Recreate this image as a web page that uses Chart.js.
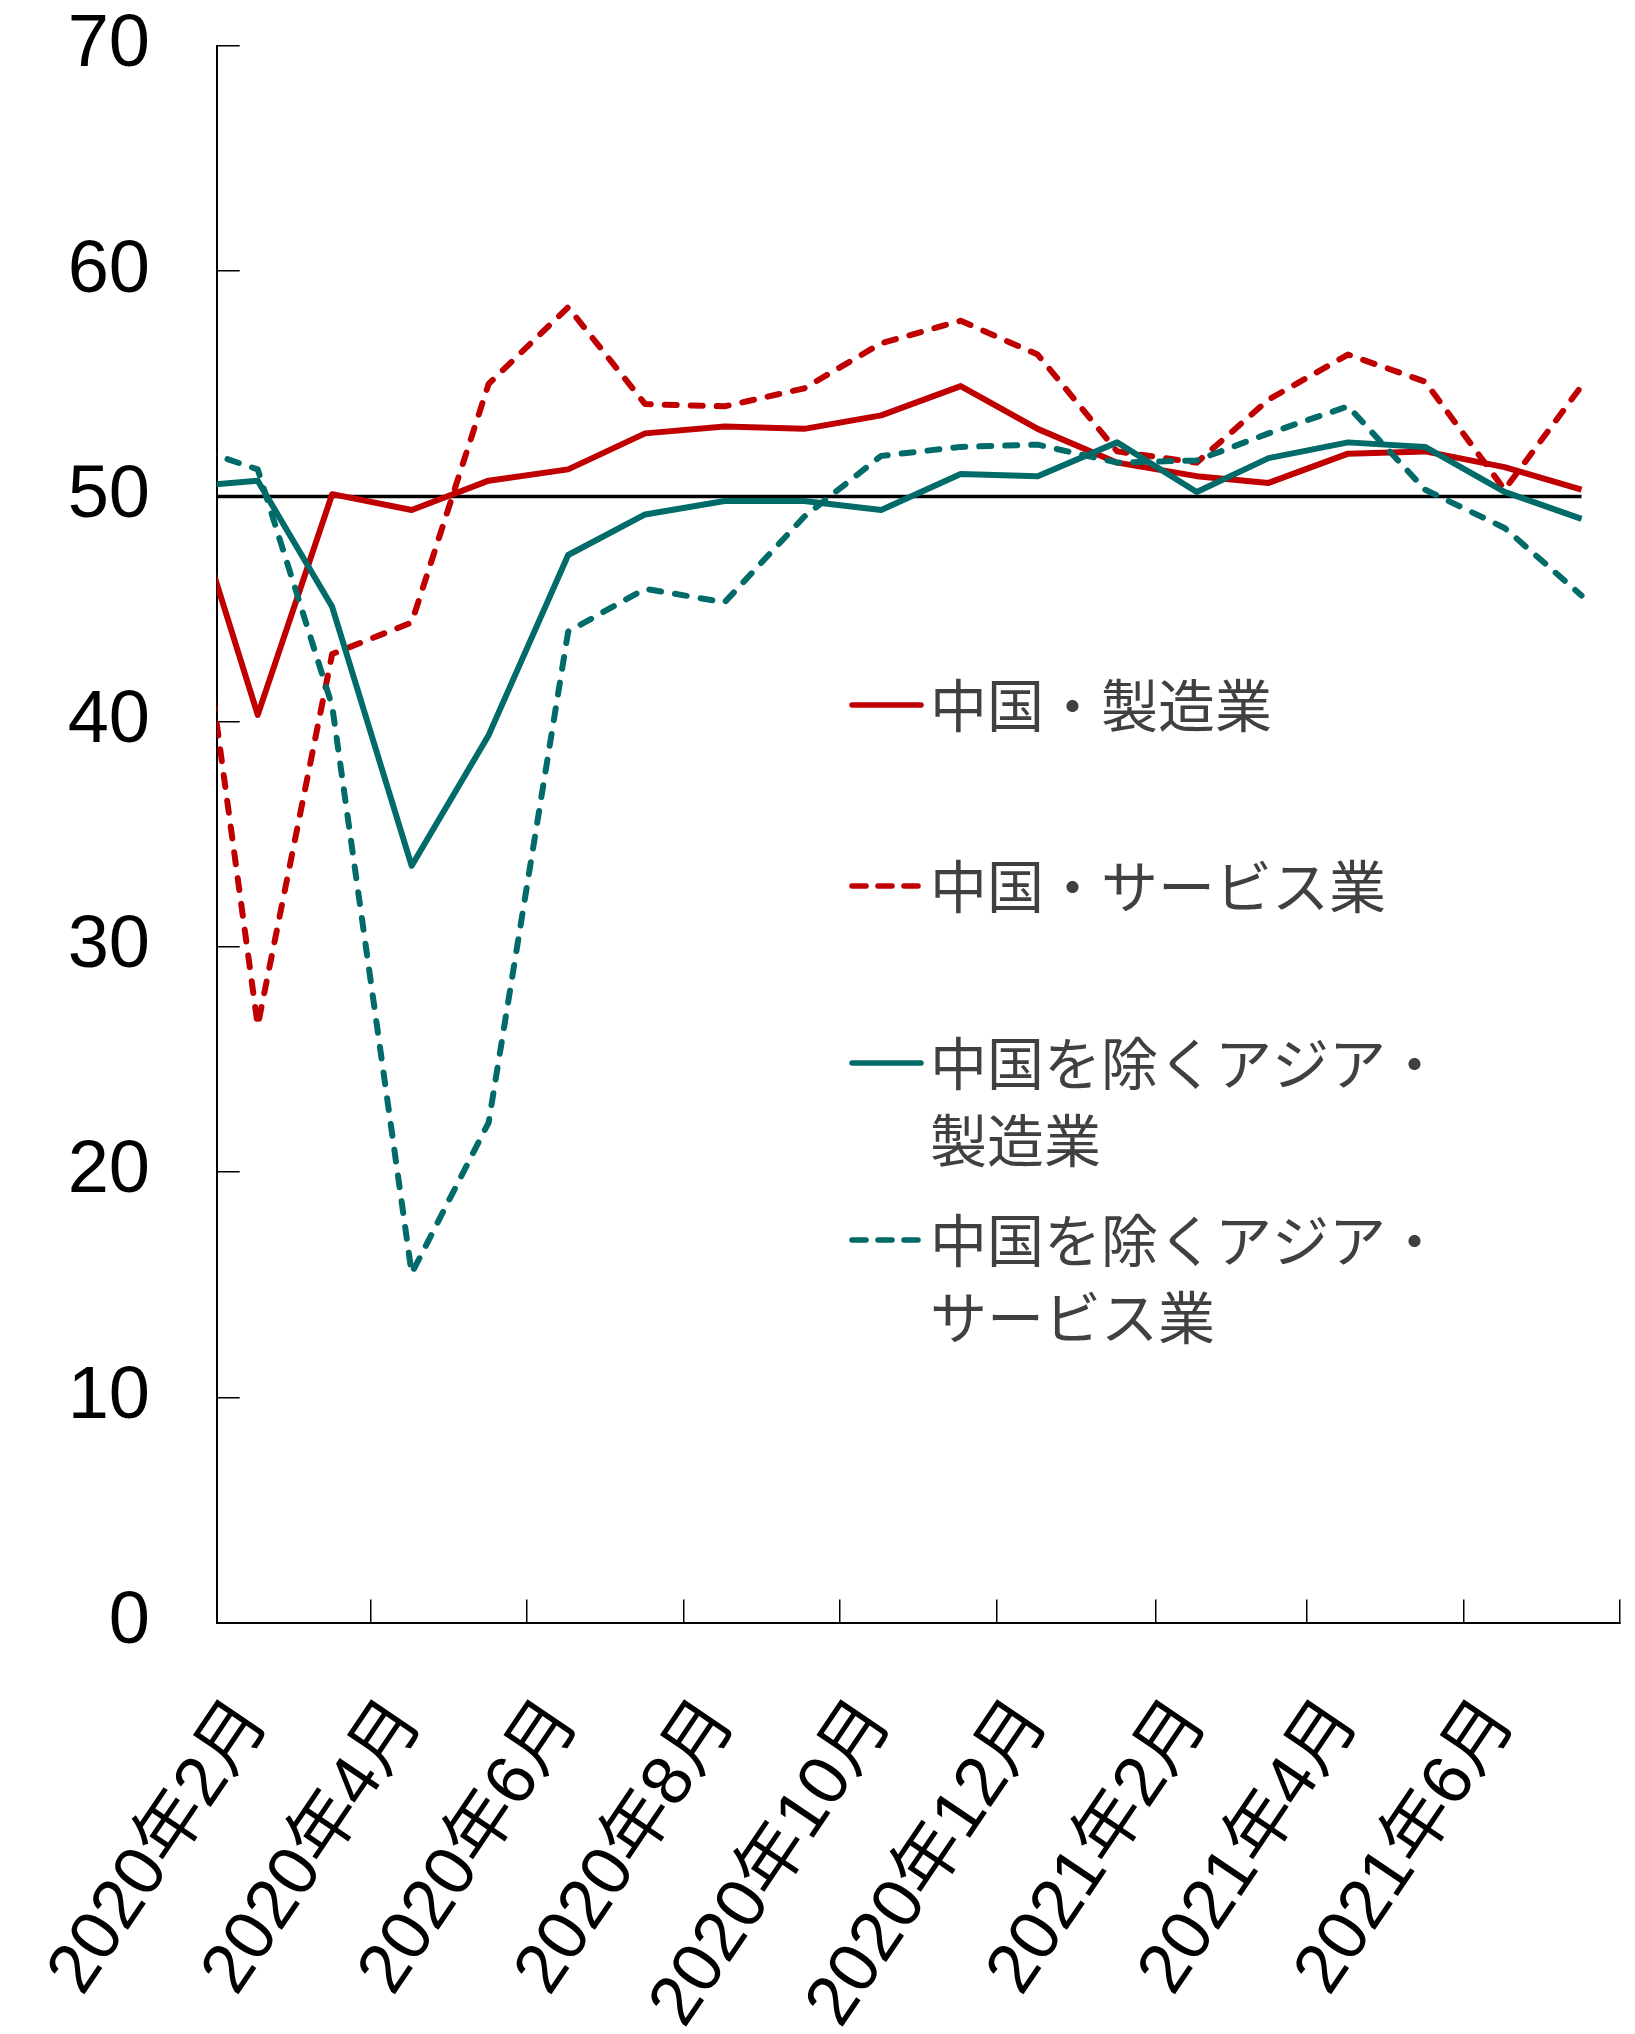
<!DOCTYPE html>
<html>
<head>
<meta charset="utf-8">
<script src="https://cdn.jsdelivr.net/npm/chart.js@4.4.1/dist/chart.umd.min.js"></script>
<style>
  html, body { margin: 0; padding: 0; background: #fff; }
  #wrap { width: 1635px; height: 2034px; position: relative; }
</style>
</head>
<body>
<div id="wrap"><canvas id="c" width="1635" height="2034"></canvas></div>
<script>
// ---- data ----
const months = ['2020-01','2020-02','2020-03','2020-04','2020-05','2020-06','2020-07','2020-08','2020-09','2020-10','2020-11','2020-12',
                '2021-01','2021-02','2021-03','2021-04','2021-05','2021-06','2021-07'];
const chinaMfg = [51.6, 40.3, 50.1, 49.4, 50.7, 51.2, 52.8, 53.1, 53.0, 53.6, 54.9, 53.0, 51.5, 50.9, 50.6, 51.9, 52.0, 51.3, 50.3];
const chinaSvc = [52.5, 26.5, 43.0, 44.4, 55.0, 58.4, 54.1, 54.0, 54.8, 56.8, 57.8, 56.3, 52.0, 51.5, 54.3, 56.3, 55.1, 50.3, 54.9];
const asiaMfg  = [50.4, 50.7, 45.1, 33.6, 39.4, 47.4, 49.2, 49.8, 49.8, 49.4, 51.0, 50.9, 52.4, 50.2, 51.7, 52.4, 52.2, 50.2, 49.0];
const asiaSvc  = [52.4, 51.2, 40.7, 15.5, 22.2, 44.0, 45.9, 45.3, 49.1, 51.8, 52.2, 52.3, 51.5, 51.6, 52.8, 54.0, 50.3, 48.6, 45.6];
const line50   = [50, 50, 50, 50, 50, 50, 50, 50, 50, 50, 50, 50, 50, 50, 50, 50, 50, 50, 50];
const tickMonths = ['2020-02','2020-04','2020-06','2020-08','2020-10','2020-12','2021-02','2021-04','2021-06','2021-08'];
const tickLabels = ['2020年2月','2020年4月','2020年6月','2020年8月','2020年10月','2020年12月','2021年2月','2021年4月','2021年6月',''];
const seriesNames = ['中国・製造業','中国・サービス業','中国を除くアジア・製造業','中国を除くアジア・サービス業'];
const legendLines = [['中国・製造業'],['中国・サービス業'],['中国を除くアジア・','製造業'],['中国を除くアジア・','サービス業']];

// ---- helpers (date axis in days from the first tick) ----
const AXIS_START = Date.UTC(2020, 1, 1);
const POINT_DAY = 17;
function dayOf(ym, d) {
  const [y, m] = ym.split('-').map(Number);
  return (Date.UTC(y, m - 1, d) - AXIS_START) / 864e5;
}
function toXY(arr) { return arr.map((v, i) => ({ x: dayOf(months[i], POINT_DAY), y: v })); }

const RED = '#C00000';
const TEAL = '#006B68';
const FONT_LAT = "'Liberation Sans', Arial, 'Noto Sans CJK JP', sans-serif";
const FONT_JP = "'Noto Sans CJK JP', 'Noto Sans', sans-serif";

const legendPlugin = {
  id: 'innerLegend',
  afterDraw(chart) {
    const ctx = chart.ctx;
    const rows = [705, 886, 1063, 1240];
    const styles = [
      { color: RED, dash: [] },
      { color: RED, dash: [14, 12] },
      { color: TEAL, dash: [] },
      { color: TEAL, dash: [14, 12] }
    ];
    ctx.save();
    ctx.font = '57px ' + FONT_JP;
    ctx.textBaseline = 'middle';
    ctx.textAlign = 'left';
    rows.forEach((y, i) => {
      ctx.beginPath();
      ctx.strokeStyle = styles[i].color;
      ctx.lineWidth = 5.5;
      ctx.lineCap = 'round';
      ctx.setLineDash(styles[i].dash);
      ctx.moveTo(852, y);
      ctx.lineTo(921, y);
      ctx.stroke();
      ctx.setLineDash([]);
      ctx.fillStyle = '#404040';
      legendLines[i].forEach((t, k) => ctx.fillText(t, 930, y + k * 77));
    });
    ctx.restore();
  }
};

const ctx = document.getElementById('c').getContext('2d');
new Chart(ctx, {
  type: 'line',
  data: {
    datasets: [
      { label: '50', data: toXY(line50), borderColor: '#000', borderWidth: 3.5, order: 5 },
      { label: seriesNames[0], data: toXY(chinaMfg), borderColor: RED, borderWidth: 6, order: 4 },
      { label: seriesNames[1], data: toXY(chinaSvc), borderColor: RED, borderWidth: 6, borderDash: [12, 14], borderCapStyle: 'round', order: 3 },
      { label: seriesNames[2], data: toXY(asiaMfg), borderColor: TEAL, borderWidth: 6, order: 2 },
      { label: seriesNames[3], data: toXY(asiaSvc), borderColor: TEAL, borderWidth: 6, borderDash: [12, 14], borderCapStyle: 'round', order: 1 }
    ]
  },
  options: {
    responsive: false,
    animation: false,
    devicePixelRatio: 1,
    layout: { padding: { top: 46, right: 15, left: 0, bottom: 0 } },
    elements: {
      point: { radius: 0, hoverRadius: 0 },
      line: { tension: 0, borderJoinStyle: 'round', fill: false }
    },
    datasets: { line: { clip: 0 } },
    plugins: { legend: { display: false }, tooltip: { enabled: false } },
    scales: {
      x: {
        type: 'linear',
        min: 0,
        max: dayOf('2021-08', 1),
        afterBuildTicks: s => { s.ticks = tickMonths.map(m => ({ value: dayOf(m, 1) })); },
        afterFit: s => { s.height = 2034 - 1622.5; s.paddingLeft = 0; s.paddingRight = 0; },
        grid: { drawOnChartArea: false, drawTicks: true, tickLength: -23, color: '#000', lineWidth: 1.5 },
        border: { color: '#000', width: 2 },
        ticks: {
          autoSkip: false, minRotation: 56, maxRotation: 56, padding: 86, labelOffset: 37,
          color: '#000', font: { family: FONT_LAT, size: 70 },
          callback: (v, i) => tickLabels[i] ?? ''
        }
      },
      y: {
        min: 0, max: 70,
        afterFit: s => { s.width = 216.7; s.paddingTop = 0; s.paddingBottom = 0; },
        grid: { drawOnChartArea: false, drawTicks: true, tickLength: -23, color: '#000', lineWidth: 1.5 },
        border: { color: '#000', width: 2 },
        ticks: { stepSize: 10, padding: 89.7, color: '#000', font: { family: FONT_LAT, size: 74 } }
      }
    }
  },
  plugins: [legendPlugin]
});
</script>
</body>
</html>
